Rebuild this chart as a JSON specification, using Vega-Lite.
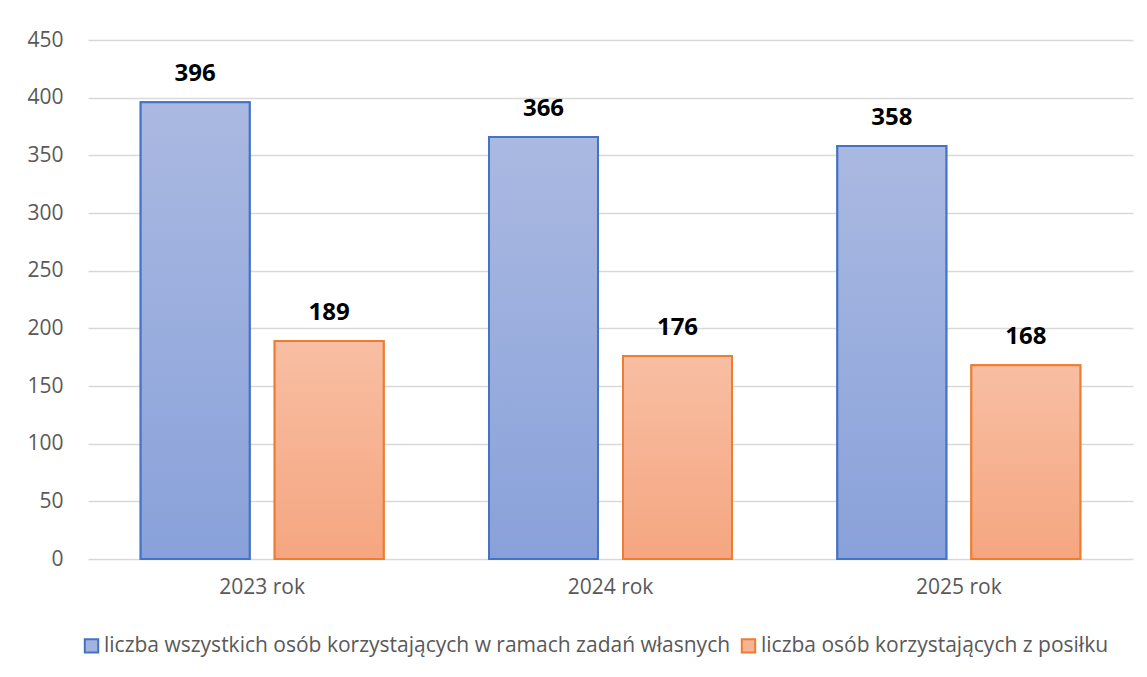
{
  "$schema": "https://vega.github.io/schema/vega-lite/v6.json",
  "width": 1045,
  "height": 519,
  "autosize": {"type": "none"},
  "padding": {"left": 88, "top": 40, "right": 14, "bottom": 118},
  "background": "white",
  "config": {
    "view": {"stroke": null},
    "font": "Open Sans"
  },
  "data": {
    "values": [
      {"rok": "2023 rok", "seria": "liczba wszystkich osób korzystających w ramach zadań własnych", "wartosc": 396},
      {"rok": "2023 rok", "seria": "liczba osób korzystających z posiłku", "wartosc": 189},
      {"rok": "2024 rok", "seria": "liczba wszystkich osób korzystających w ramach zadań własnych", "wartosc": 366},
      {"rok": "2024 rok", "seria": "liczba osób korzystających z posiłku", "wartosc": 176},
      {"rok": "2025 rok", "seria": "liczba wszystkich osób korzystających w ramach zadań własnych", "wartosc": 358},
      {"rok": "2025 rok", "seria": "liczba osób korzystających z posiłku", "wartosc": 168}
    ]
  },
  "encoding": {
    "x": {
      "field": "rok", "type": "nominal", "title": null,
      "scale": {"paddingInner": 0, "paddingOuter": 0},
      "axis": {"labelAngle": 0, "labelFontSize": 21, "labelColor": "#595959", "labelPadding": 17, "ticks": false, "domain": false, "grid": false}
    },
    "xOffset": {
      "field": "seria", "type": "nominal",
      "sort": ["liczba wszystkich osób korzystających w ramach zadań własnych", "liczba osób korzystających z posiłku"],
      "scale": {"paddingInner": 0.1866, "paddingOuter": 0.393}
    },
    "y": {
      "field": "wartosc", "type": "quantitative", "title": null,
      "scale": {"domain": [0, 450], "nice": false},
      "axis": {"values": [0, 50, 100, 150, 200, 250, 300, 350, 400, 450], "labelFontSize": 21, "labelColor": "#595959", "labelPadding": 25, "ticks": false, "domain": false, "gridColor": "#D9D9D9", "gridWidth": 1.3}
    }
  },
  "layer": [
    {
      "mark": {"type": "bar", "strokeWidth": 2},
      "encoding": {
        "fill": {
          "field": "seria", "type": "nominal",
          "sort": ["liczba wszystkich osób korzystających w ramach zadań własnych", "liczba osób korzystających z posiłku"],
          "scale": {"range": ["#A3B3DF", "#F7B396"]},
          "legend": {
            "title": null, "orient": "none", "direction": "horizontal",
            "legendX": -7, "legendY": 595,
            "symbolType": "square", "symbolSize": 180, "symbolStrokeWidth": 2,
            "labelFontSize": 21, "labelColor": "#595959", "labelLimit": 0,
            "columnPadding": 6, "labelOffset": 2,
            "encode": {"symbols": {"update": {"stroke": {"scale": "stroke", "field": "value"}}}}
          }
        },
        "stroke": {
          "field": "seria", "type": "nominal",
          "sort": ["liczba wszystkich osób korzystających w ramach zadań własnych", "liczba osób korzystających z posiłku"],
          "scale": {"range": ["#4472C4", "#ED7D31"]},
          "legend": null
        }
      }
    },
    {
      "transform": [{"filter": "datum.seria === 'liczba wszystkich osób korzystających w ramach zadań własnych'"}],
      "mark": {
        "type": "bar", "stroke": "#4472C4", "strokeWidth": 2,
        "fill": {"gradient": "linear", "x1": 0, "y1": 0, "x2": 0, "y2": 1,
          "stops": [{"offset": 0, "color": "#AAB9E1"}, {"offset": 1, "color": "#89A1DA"}]}
      },
      "encoding": {}
    },
    {
      "transform": [{"filter": "datum.seria === 'liczba osób korzystających z posiłku'"}],
      "mark": {
        "type": "bar", "stroke": "#ED7D31", "strokeWidth": 2,
        "fill": {"gradient": "linear", "x1": 0, "y1": 0, "x2": 0, "y2": 1,
          "stops": [{"offset": 0, "color": "#F8BEA3"}, {"offset": 1, "color": "#F5A680"}]}
      },
      "encoding": {}
    },
    {
      "mark": {"type": "text", "baseline": "bottom", "dy": -16, "fontSize": 24, "fontWeight": "bold", "color": "#000000"},
      "encoding": {
        "text": {"field": "wartosc", "type": "quantitative"}
      }
    }
  ]
}
